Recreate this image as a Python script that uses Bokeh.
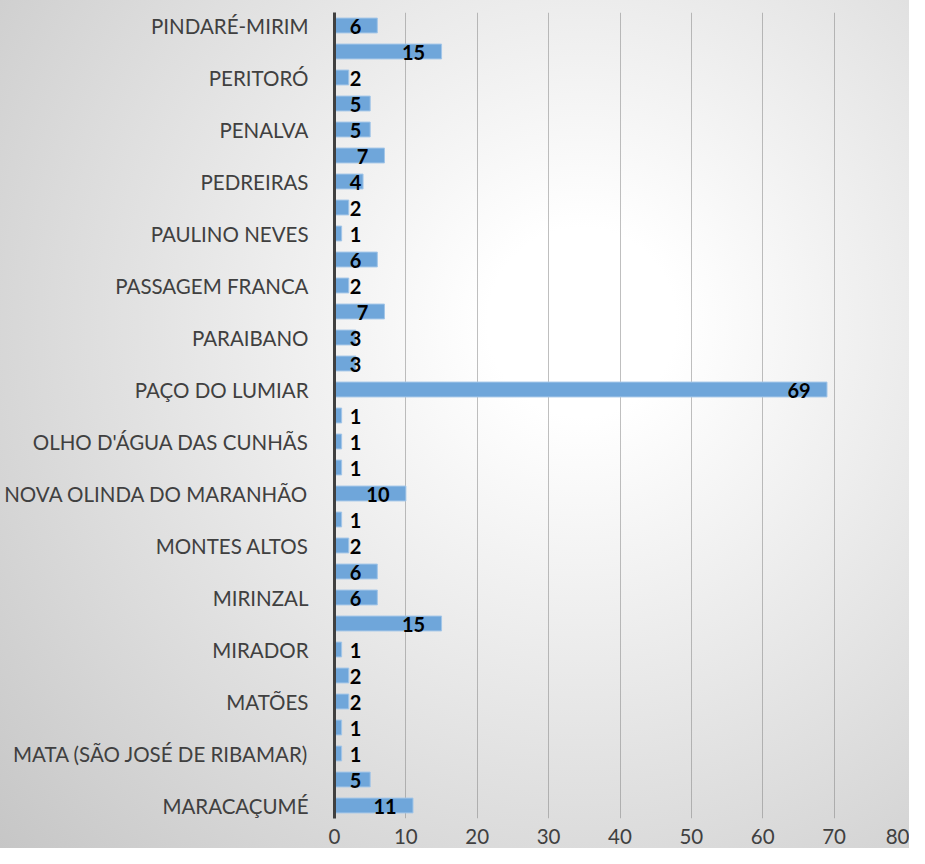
import numpy as np
from bokeh.plotting import figure
from bokeh.models import ColumnDataSource, FixedTicker, Range1d
from bokeh.core.properties import value
from bokeh.embed import file_html
from bokeh.resources import INLINE

# ---- data (top to bottom as in the chart; "" = category whose label is not shown)
categories = [
    "PINDARÉ-MIRIM", "", "PERITORÓ", "", "PENALVA", "", "PEDREIRAS", "",
    "PAULINO NEVES", "", "PASSAGEM FRANCA", "", "PARAIBANO", "",
    "PAÇO DO LUMIAR", "", "OLHO D'ÁGUA DAS CUNHÃS", "", "NOVA OLINDA DO MARANHÃO", "",
    "MONTES ALTOS", "", "MIRINZAL", "", "MIRADOR", "", "MATÕES", "",
    "MATA (SÃO JOSÉ DE RIBAMAR)", "", "MARACAÇUMÉ",
]
counts = [6, 15, 2, 5, 5, 7, 4, 2, 1, 6, 2, 7, 3, 3, 69, 1, 1, 1, 10, 1,
          2, 6, 6, 15, 1, 2, 2, 1, 1, 5, 11]
x_ticks = [0, 10, 20, 30, 40, 50, 60, 70, 80]

# ---- layout
W, H = 909, 848
ML, MR, MT, MB = 334, 4, 12, 30
N = len(categories)
xmax = x_ticks[-1]
frame_w = W - ML - MR
ppu = frame_w / xmax  # pixels per unit

ypos = [N - 1 - i for i in range(N)]
digit_w = 12
lab_x = []
for v in counts:
    w = digit_w * len(str(v))
    lab_x.append(max(v - (16 + w / 2) / ppu, (15 + w / 2) / ppu))

src = ColumnDataSource(dict(y=ypos, v=counts, lx=lab_x, t=[str(c) for c in counts]))

p = figure(width=W, height=H, x_range=Range1d(0, xmax), y_range=Range1d(-0.5, N - 0.5),
           output_backend="svg", toolbar_location=None,
           min_border_left=ML, min_border_right=MR, min_border_top=MT, min_border_bottom=MB)

p.background_fill_color = None
p.border_fill_color = None
p.outline_line_color = None
p.styles = {"background": "radial-gradient(circle farthest-corner at 64% 38%, #ffffff 0%, #ffffff 12%, #c6c6c6 100%)"}

p.hbar(y="y", right="v", left=0, height=0.571, source=src,
       fill_color="#6fa6da", line_color="#a3c6e8", line_width=1)

p.text(x="lx", y="y", text="t", source=src, text_align="center", text_baseline="middle",
       text_font=value("Lato"), text_font_style="bold", text_font_size="20px",
       text_color="#000000", y_offset=1)

# axes
p.xaxis.ticker = FixedTicker(ticks=x_ticks)
p.xaxis.axis_line_color = None
p.xaxis.major_tick_line_color = None
p.xaxis.minor_tick_line_color = None
p.xaxis.major_label_standoff = 4
p.xaxis.major_label_text_font = "Lato"
p.xaxis.major_label_text_font_size = "20.5px"
p.xaxis.major_label_text_color = "#404040"

shown = [(ypos[i], c) for i, c in enumerate(categories) if c]
p.yaxis.ticker = FixedTicker(ticks=[s[0] for s in shown])
p.yaxis.major_label_overrides = {s[0]: s[1] for s in shown}
p.yaxis.axis_line_color = "#404040"
p.yaxis.axis_line_width = 3
p.yaxis.major_tick_line_color = None
p.yaxis.minor_tick_line_color = None
p.yaxis.major_label_standoff = 20
p.yaxis.major_label_text_font = "Lato"
p.yaxis.major_label_text_font_size = "20.5px"
p.yaxis.major_label_text_color = "#404040"

p.ygrid.grid_line_color = None
p.xgrid.grid_line_color = "#808080"
p.xgrid.grid_line_alpha = 0.5
p.xgrid.grid_line_width = 1

open("out.html", "w").write(file_html(p, INLINE))
